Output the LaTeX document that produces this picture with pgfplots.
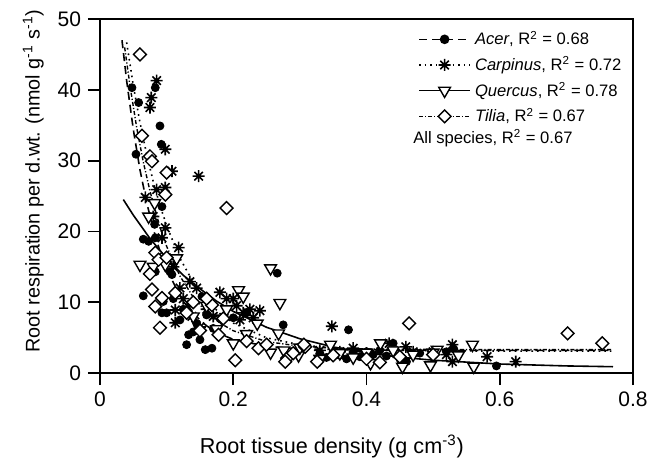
\documentclass[border=0pt]{standalone}
\usepackage{fontspec}
\setmainfont{Liberation Sans}
\usepackage{pgfplots}
\pgfplotsset{compat=1.18}
\pgfdeclareplotmark{ast8}{%
 \pgfpathmoveto{\pgfqpoint{-\pgfplotmarksize}{0pt}}\pgfpathlineto{\pgfqpoint{\pgfplotmarksize}{0pt}}%
 \pgfpathmoveto{\pgfqpoint{0pt}{-\pgfplotmarksize}}\pgfpathlineto{\pgfqpoint{0pt}{\pgfplotmarksize}}%
 \pgfpathmoveto{\pgfqpoint{-0.707\pgfplotmarksize}{-0.707\pgfplotmarksize}}\pgfpathlineto{\pgfqpoint{0.707\pgfplotmarksize}{0.707\pgfplotmarksize}}%
 \pgfpathmoveto{\pgfqpoint{-0.707\pgfplotmarksize}{0.707\pgfplotmarksize}}\pgfpathlineto{\pgfqpoint{0.707\pgfplotmarksize}{-0.707\pgfplotmarksize}}%
 \pgfusepathqstroke}
\pgfdeclareplotmark{dia}{%
 \pgfpathmoveto{\pgfqpoint{0pt}{\pgfplotmarksize}}\pgfpathlineto{\pgfqpoint{\pgfplotmarksize}{0pt}}%
 \pgfpathlineto{\pgfqpoint{0pt}{-\pgfplotmarksize}}\pgfpathlineto{\pgfqpoint{-\pgfplotmarksize}{0pt}}%
 \pgfpathclose\pgfusepathqfillstroke}
\begin{document}
\begin{tikzpicture}
\useasboundingbox (-50pt,-45pt) rectangle (282pt,186.5pt);
\begin{axis}[
  at={(0,0)}, anchor=south west,
  scale only axis, width=266.5pt, height=177pt,
  xmin=0, xmax=0.8, ymin=0, ymax=50,
  xtick={0,0.2,0.4,0.6,0.8}, ytick={0,10,20,30,40,50},
  xtick pos=bottom, ytick pos=left, tick align=outside,
  major tick length=6pt,
  axis line style={line width=0.9pt},
  every tick/.style={line width=0.9pt, black},
  /pgf/number format/assume math mode=true,
  xticklabel style={/pgf/number format/fixed, /pgf/number format/precision=1},
  tick label style={font=\fontsize{10.5}{12}\selectfont},
  xlabel={Root tissue density (g cm\textsuperscript{-3})},
  ylabel={Root respiration per d.wt. (nmol g\textsuperscript{-1} s\textsuperscript{-1})},
  xlabel style={font=\fontsize{10.8}{12}\selectfont, at={(ticklabel cs:0.435)}, yshift=-7pt},
  ylabel style={font=\fontsize{9.9}{12}\selectfont, at={(ticklabel cs:0.542)}},
  legend style={draw=none, fill=none, at={(0.585,0.99)}, anchor=north west,
    font=\fontsize{8.3}{10}\selectfont, row sep=0.45pt},
  legend cell align=left,
  legend image code/.code={\draw[mark repeat=2,mark phase=2] plot coordinates {(0cm,0cm) (0.45cm,0cm) (0.9cm,0cm)};},
  clip=false
]
% --- data: Acer
\addplot[only marks, mark=*, mark size=2pt, black, forget plot] coordinates {
(0.048,40.3)(0.058,38.2)(0.083,40.3)(0.09,34.9)(0.092,32.3)(0.054,30.9)(0.093,23.5)(0.082,21.0)
(0.065,18.9)(0.073,18.6)(0.083,19.1)(0.083,14.3)(0.105,14.3)(0.065,10.9)(0.095,10.1)(0.093,8.5)
(0.1,8.5)(0.133,5.4)(0.13,4.0)(0.15,4.7)(0.158,3.3)(0.168,3.5)(0.14,5.8)(0.153,10.8)
(0.266,14.1)(0.275,6.8)(0.373,6.1)(0.531,3.4)(0.595,1.0)(0.451,1.8)(0.44,4.2)(0.12,7.5)
(0.145,7.0)(0.17,6.3)(0.16,8.2)(0.11,10.5)(0.125,9.0)(0.2,7.8)(0.22,8.5)(0.33,2.8)
(0.34,2.2)(0.35,3.0)(0.36,2.5)(0.37,2.0)(0.38,2.8)(0.39,2.3)(0.40,3.0)(0.41,2.6)
(0.42,3.2)(0.43,2.4)(0.45,2.2)(0.46,1.6)(0.48,2.8)(0.50,2.5)(0.52,3.0)(0.108,13.9)
};
% --- data: Carpinus
\addplot[only marks, mark=ast8, mark size=3pt, black, line width=0.8pt, forget plot] coordinates {
(0.085,41.3)(0.077,38.9)(0.075,37.5)(0.098,31.6)(0.108,28.5)(0.148,27.8)(0.085,25.9)(0.098,26.2)
(0.068,24.8)(0.08,22.1)(0.098,20.5)(0.093,19.1)(0.118,17.7)(0.113,8.9)(0.113,7.1)(0.132,9.4)
(0.138,8.0)(0.135,12.9)(0.145,12.0)(0.18,11.4)(0.215,8.5)(0.205,9.5)(0.225,9.0)(0.23,7.8)
(0.21,7.5)(0.19,10.5)(0.16,9.0)(0.12,12.0)(0.125,10.5)(0.15,6.5)(0.17,8.0)(0.348,6.6)
(0.434,4.2)(0.459,3.7)(0.529,4.0)(0.581,2.3)(0.624,1.6)(0.529,1.6)(0.33,3.2)(0.36,3.0)
(0.38,3.5)(0.40,2.8)(0.44,3.2)(0.47,3.0)(0.50,3.0)(0.52,2.6)(0.11,15.0)(0.2,10.5)(0.24,8.8)
};
% --- data: Quercus
\addplot[only marks, mark=triangle*, mark size=3.4pt, black, line width=0.7pt,
  mark options={rotate=180, fill=white}, forget plot] coordinates {
(0.06,15.3)(0.082,24.0)(0.073,22.1)(0.115,16.2)(0.08,15.0)(0.098,15.3)(0.208,11.7)(0.215,10.8)
(0.183,7.7)(0.236,7.0)(0.268,5.6)(0.2,4.2)(0.256,2.9)(0.276,3.2)(0.256,14.8)(0.27,9.9)
(0.298,2.5)(0.346,4.0)(0.421,4.2)(0.406,1.4)(0.454,0.9)(0.559,4.0)(0.561,0.9)(0.496,1.1)
(0.506,3.3)(0.538,2.5)(0.33,2.0)(0.36,2.8)(0.38,2.2)(0.40,2.9)(0.44,3.2)(0.47,2.6)
(0.5,2.9)(0.16,9.5)(0.14,8.0)(0.175,6.2)(0.19,9.0)(0.22,5.5)(0.3,3.6)
};
% --- data: Tilia
\addplot[only marks, mark=dia, mark size=3.2pt, black, line width=0.7pt,
  mark options={fill=white}, forget plot] coordinates {
(0.06,45.0)(0.063,33.5)(0.075,30.6)(0.078,29.9)(0.1,28.3)(0.098,25.2)(0.083,17.0)(0.088,16.0)
(0.1,16.3)(0.075,14.0)(0.078,11.8)(0.093,10.6)(0.083,9.4)(0.113,11.3)(0.09,6.4)(0.19,23.3)
(0.178,5.4)(0.238,3.5)(0.203,1.8)(0.168,9.6)(0.185,7.7)(0.281,2.1)(0.308,3.7)(0.306,4.0)
(0.326,1.6)(0.278,1.6)(0.29,2.8)(0.464,7.0)(0.702,5.6)(0.754,4.2)(0.13,8.5)(0.15,6.0)
(0.16,10.5)(0.22,4.5)(0.25,4.0)(0.35,2.5)(0.4,2.0)(0.45,2.3)(0.5,2.6)(0.42,1.5)(0.14,10.0)
};
% --- fitted curves (read from figure)
\addplot[black, line width=0.8pt, dash pattern=on 4pt off 2.5pt, forget plot] coordinates {
(0.033,47.0)(0.04,41.3)(0.05,34.4)(0.06,28.7)(0.07,24.1)(0.08,20.3)(0.09,17.2)(0.1,14.7)
(0.12,10.9)(0.14,8.37)(0.16,6.66)(0.18,5.52)(0.2,4.75)(0.25,3.77)(0.3,3.41)(0.4,3.23)
(0.5,3.2)(0.6,3.2)(0.7,3.2)(0.77,3.2)};
\addplot[black, line width=0.8pt, dotted, forget plot] coordinates {
(0.04,46.7)(0.05,40.6)(0.06,35.4)(0.07,30.9)(0.08,27.0)(0.09,23.7)(0.1,20.8)(0.12,16.2)
(0.14,12.8)(0.16,10.3)(0.18,8.42)(0.2,7.05)(0.25,4.97)(0.3,3.98)(0.35,3.52)(0.4,3.30)
(0.5,3.14)(0.6,3.1)(0.77,3.1)};
\addplot[black, line width=0.8pt, forget plot] coordinates {
(0.035,24.5)(0.05,22.3)(0.075,19.0)(0.1,16.2)(0.125,13.8)(0.15,11.9)(0.175,10.15)(0.2,8.7)
(0.25,6.46)(0.3,4.84)(0.35,3.68)(0.4,2.84)(0.45,2.24)(0.5,1.81)(0.6,1.27)(0.7,1.0)(0.77,0.89)};
\addplot[black, line width=0.7pt, dash pattern=on 2pt off 1pt on 0.6pt off 1pt, forget plot] coordinates {
(0.037,46.0)(0.045,40.6)(0.055,34.7)(0.065,29.8)(0.075,25.7)(0.09,20.6)(0.1,17.9)(0.12,13.7)
(0.14,10.7)(0.16,8.58)(0.18,7.06)(0.2,5.97)(0.25,4.44)(0.3,3.79)(0.35,3.51)(0.4,3.39)
(0.5,3.32)(0.6,3.3)(0.77,3.3)};
% --- legend
\addlegendimage{black, line width=0.8pt, dash pattern=on 4pt off 2.5pt, mark=*, mark size=2pt, mark options={solid}}
\addlegendentry{\textit{Acer}, R\textsuperscript{2} = 0.68}
\addlegendimage{black, line width=0.8pt, dotted, mark=ast8, mark size=3pt, mark options={solid}}
\addlegendentry{\textit{Carpinus}, R\textsuperscript{2} = 0.72}
\addlegendimage{black, line width=0.8pt, mark=triangle*, mark size=3.4pt, mark options={solid, rotate=180, fill=white, line width=0.7pt}}
\addlegendentry{\textit{Quercus}, R\textsuperscript{2} = 0.78}
\addlegendimage{black, line width=0.7pt, dash pattern=on 2pt off 1pt on 0.6pt off 1pt, mark=dia, mark size=3.2pt, mark options={solid, fill=white}}
\addlegendentry{\textit{Tilia}, R\textsuperscript{2} = 0.67}
\node[anchor=west, font=\fontsize{8.3}{10}\selectfont, inner sep=0pt] at (rel axis cs:0.587,0.663) {All species, R\textsuperscript{2} = 0.67};
\end{axis}
\end{tikzpicture}
\end{document}
